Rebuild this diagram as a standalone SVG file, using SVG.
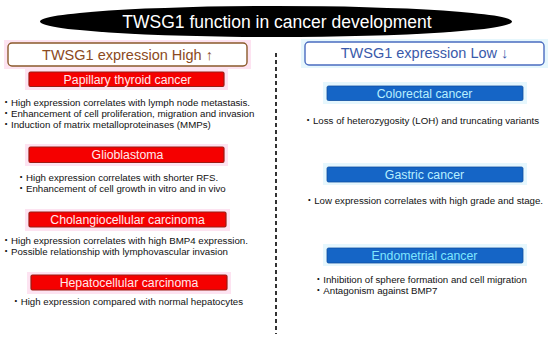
<svg xmlns="http://www.w3.org/2000/svg" width="550" height="339" viewBox="0 0 550 339">
<defs>
<style>
text{font-family:"Liberation Sans","Noto Sans CJK JP",Arial,sans-serif;}
.title{font-size:17.5px;fill:#ffffff;text-anchor:middle;}
.hi{fill:#ffffff;stroke:#8b5a2b;stroke-width:1.4;}
.hitxt{font-size:14.5px;fill:#8b4a22;text-anchor:middle;}
.lo{fill:#ffffff;stroke:#4a6cc0;stroke-width:1.4;}
.lotxt{font-size:14.5px;fill:#3a5aaa;text-anchor:middle;}
.halo-p{fill:#fde3f1;}
.halo-b{fill:#e6f7fd;}
.red{fill:#f50000;stroke:#9b1c14;stroke-width:1.2;}
.redtxt{font-size:12.3px;fill:#ffe8ec;text-anchor:middle;}
.blue{fill:#1565c6;stroke:#0f4fa0;stroke-width:0.8;}
.bluetxt{font-size:12.3px;fill:#b8efff;text-anchor:middle;}
.bluetxt2{font-size:12.3px;fill:#7fe6ff;text-anchor:middle;}
.b{font-size:9.7px;fill:#111111;}
.dash{stroke:#000000;stroke-width:1.6;stroke-dasharray:4 3;fill:none;}
</style>
</defs>

<g id="title">
<ellipse cx="276" cy="21.5" rx="236" ry="15.5" fill="#000000"/>
<text class="title" x="277" y="28">TWSG1 function in cancer development</text>
</g>

<g id="connectors">
<line class="dash" x1="276" y1="53" x2="276" y2="334"/>
</g>

<g id="high-header">
<rect class="halo-p" x="4" y="40" width="247" height="29"/>
<rect class="hi" x="8" y="43" width="239" height="23" rx="4"/>
<text class="hitxt" x="127.5" y="60">TWSG1 expression High ↑</text>
</g>

<g id="low-header">
<rect class="halo-b" x="301" y="39" width="247" height="29"/>
<rect class="lo" x="305" y="42" width="239" height="23" rx="4"/>
<text class="lotxt" x="424.5" y="58">TWSG1 expression Low ↓</text>
</g>

<g id="papillary">
<rect class="halo-p" x="25" y="69" width="203" height="21"/>
<rect class="red" x="29" y="72" width="195" height="14.5" rx="1.5"/>
<text class="redtxt" x="127.5" y="83.5">Papillary thyroid cancer</text>
<text class="b" x="1.3" y="105.5">・High expression correlates with lymph node metastasis.</text>
<text class="b" x="1.3" y="116.5">・Enhancement of cell proliferation, migration and invasion</text>
<text class="b" x="1.3" y="127.5">・Induction of matrix metalloproteinases (MMPs)</text>
</g>

<g id="glioblastoma">
<rect class="halo-p" x="25" y="144" width="203" height="22"/>
<rect class="red" x="29" y="147" width="195" height="15.5" rx="1.5"/>
<text class="redtxt" x="127.5" y="159">Glioblastoma</text>
<text class="b" x="16.3" y="180.5">・High expression correlates with shorter RFS.</text>
<text class="b" x="16.3" y="191.5">・Enhancement of cell growth in vitro and in vivo</text>
</g>

<g id="cholangio">
<rect class="halo-p" x="25" y="209" width="205" height="22"/>
<rect class="red" x="29" y="212" width="197" height="15" rx="1.5"/>
<text class="redtxt" x="127.5" y="224">Cholangiocellular carcinoma</text>
<text class="b" x="1.3" y="243.5">・High expression correlates with high BMP4 expression.</text>
<text class="b" x="1.3" y="254.5">・Possible relationship with lymphovascular invasion</text>
</g>

<g id="hepato">
<rect class="halo-p" x="27" y="272" width="204" height="22"/>
<rect class="red" x="31" y="275" width="196" height="15" rx="1.5"/>
<text class="redtxt" x="129" y="287">Hepatocellular carcinoma</text>
<text class="b" x="11" y="304.5">・High expression compared with normal hepatocytes</text>
</g>

<g id="colorectal">
<rect class="halo-b" x="323" y="82" width="204" height="22"/>
<rect class="blue" x="327" y="86" width="196" height="14.5" rx="1.5"/>
<text class="bluetxt" x="424.5" y="97.5">Colorectal cancer</text>
<text class="b" x="303.3" y="123.5">・Loss of heterozygosity (LOH) and truncating variants</text>
</g>

<g id="gastric">
<rect class="halo-b" x="323" y="163" width="204" height="22"/>
<rect class="blue" x="327" y="167" width="196" height="15" rx="1.5"/>
<text class="bluetxt" x="424.5" y="179">Gastric cancer</text>
<text class="b" x="304.5" y="203.5">・Low expression correlates with high grade and stage.</text>
</g>

<g id="endometrial">
<rect class="halo-b" x="323" y="244" width="204" height="22"/>
<rect class="blue" x="327" y="248" width="196" height="15" rx="1.5"/>
<text class="bluetxt2" x="424.5" y="260">Endometrial cancer</text>
<text class="b" x="313.6" y="282.5">・Inhibition of sphere formation and cell migration</text>
<text class="b" x="313.6" y="293.5">・Antagonism against BMP7</text>
</g>
</svg>
